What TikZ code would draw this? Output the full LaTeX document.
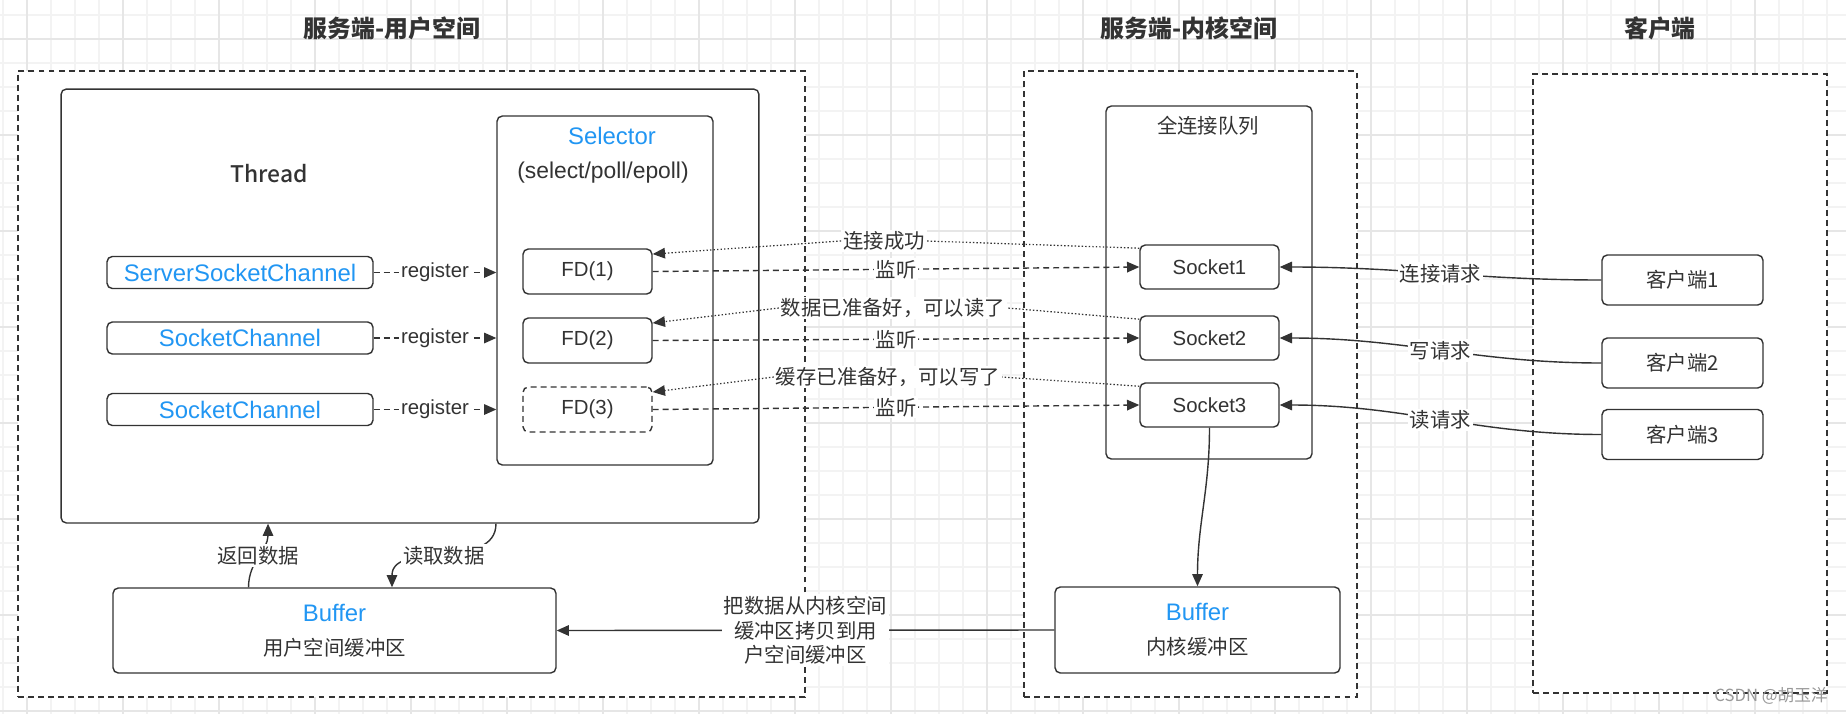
\documentclass[tikz,border=0pt]{standalone}
\usepackage{fontspec}
\setmainfont{Noto Sans CJK SC}
\newfontfamily\latinfont{Liberation Sans}
\newfontfamily\medfont{Noto Sans CJK SC Medium}
\usepackage{tikz}
\usetikzlibrary{arrows.meta}

\definecolor{ink}{HTML}{333333}
\definecolor{selblue}{HTML}{2196F3}
\definecolor{gridfine}{HTML}{F3F3F3}
\definecolor{gridbold}{HTML}{E6E6E6}

\begin{document}
\begin{tikzpicture}[x=0.02cm, y=-0.02cm, every node/.style={font=\fontsize{11.6}{14.2}\selectfont, text=ink},
	zone/.style={draw=ink, line width=0.8pt, dash pattern=on 3.4pt off 2.3pt, fill=white, inner sep=0pt},
	card/.style={draw=ink, line width=0.8pt, rounded corners=3pt, fill=white, inner sep=0pt},
	dashpat/.style={dash pattern=on 3.4pt off 2.3pt},
	latin/.style={font=\latinfont\fontsize{11.6}{14.2}\selectfont},
	bluetext/.style={text=selblue, font=\latinfont\fontsize{13.6}{16}\selectfont},
	headline/.style={font=\fontsize{13.6}{16}\selectfont\bfseries},
	tag/.style={fill=white, inner sep=1pt},
	link/.style={draw=ink, line width=0.8pt, -{Triangle[length=7pt,width=6pt]}},
	dotlink/.style={draw=ink, line width=0.7pt, dash pattern=on 0.8pt off 1.2pt, -{Triangle[length=7pt,width=6pt]}}]
	\useasboundingbox (0,0) rectangle (1846,714);
	\fill[white] (0,0) rectangle (1846,714);
	\foreach \gx in {3,27,...,1846} \draw[gridfine, line width=0.6pt] (\gx,0) -- (\gx,714);
	\foreach \gy in {15,39,...,714} \draw[gridfine, line width=0.6pt] (0,\gy) -- (1846,\gy);
	\foreach \gx in {27,123,...,1846} \draw[gridbold, line width=0.9pt] (\gx,0) -- (\gx,714);
	\foreach \gy in {39,135,...,714} \draw[gridbold, line width=0.9pt] (0,\gy) -- (1846,\gy);

	\node[headline] (userhead) at (392,28) {服务端-用户空间};
	\node[headline] (kernelhead) at (1189,28) {服务端-内核空间};
	\node[headline] (clienthead) at (1660,28) {客户端};

	\node[zone, minimum width=15.74cm, minimum height=12.52cm] (userspace) at (411.5,384) {};
	\node[zone, minimum width=6.66cm, minimum height=12.52cm] (kernelspace) at (1190.5,384) {};
	\node[zone, minimum width=5.88cm, minimum height=12.38cm] (clientside) at (1680,383.5) {};

	\node[card, minimum width=13.96cm, minimum height=8.68cm] (thread) at (410,306) {};
	\node[font=\medfont\fontsize{13}{16}\selectfont] (threadlbl) at (269,174) {Thread};
	\node[card, minimum width=4.32cm, minimum height=6.98cm] (selector) at (605,290.5) {};
	\node[bluetext] (selectorlbl) at (612,136) {Selector};
	\node[font=\latinfont\fontsize{13}{16}\selectfont] (selectorsub) at (603,173) {(select/poll/epoll)};

	\node[card, bluetext, minimum width=5.32cm, minimum height=0.64cm] (ssc) at (240,272.5) {ServerSocketChannel};
	\node[card, bluetext, minimum width=5.32cm, minimum height=0.64cm] (sc1) at (240,338) {SocketChannel};
	\node[card, bluetext, minimum width=5.32cm, minimum height=0.64cm] (sc2) at (240,409.5) {SocketChannel};

	\node[card, latin, minimum width=2.58cm, minimum height=0.9cm] (fd1) at (587.5,271.5) {FD(1)};
	\node[card, latin, minimum width=2.58cm, minimum height=0.9cm] (fd2) at (587.5,340.5) {FD(2)};
	\node[card, latin, dashpat, minimum width=2.58cm, minimum height=0.9cm] (fd3) at (587.5,409.5) {FD(3)};

	\node[card, minimum width=4.12cm, minimum height=7.06cm] (queue) at (1209,282.5) {};
	\node (queuelbl) at (1208,126) {全连接队列};
	\node[card, latin, minimum width=2.78cm, minimum height=0.88cm] (sock1) at (1209.5,267) {Socket1};
	\node[card, latin, minimum width=2.78cm, minimum height=0.88cm] (sock2) at (1209.5,338) {Socket2};
	\node[card, latin, minimum width=2.78cm, minimum height=0.88cm] (sock3) at (1209.5,405) {Socket3};

	\node[card, minimum width=3.22cm, minimum height=1cm] (cli1) at (1682.5,280) {客户端1};
	\node[card, minimum width=3.22cm, minimum height=1cm] (cli2) at (1682.5,363) {客户端2};
	\node[card, minimum width=3.22cm, minimum height=1cm] (cli3) at (1682.5,434.5) {客户端3};

	\node[card, align=center, minimum width=8.86cm, minimum height=1.7cm] (ubuf) at (334.5,630.5) {\textcolor{selblue}{\latinfont\fontsize{13.6}{16}\selectfont Buffer}\\[5pt]用户空间缓冲区};
	\node[card, align=center, minimum width=5.7cm, minimum height=1.72cm] (kbuf) at (1197.5,630) {\textcolor{selblue}{\latinfont\fontsize{13.6}{16}\selectfont Buffer}\\[5pt]内核缓冲区};

	\foreach \src in {ssc,sc1,sc2}
		\draw[link, dashpat] (\src.east) -- node[tag, latin] {register} (\src.east -| selector.west);
	\foreach \i in {1,2,3}
		\draw[link, dashpat] (fd\i.east) -- node[tag] {监听} (sock\i.west);

	\node[tag] (ready1) at (884,241) {连接成功};
	\node[tag] (ready2) at (893,308) {数据已准备好，可以读了};
	\node[tag] (ready3) at (888,377) {缓存已准备好，可以写了};
	\foreach \i in {1,2,3}
		\draw[dotlink] (sock\i.165) -- (ready\i.east) (ready\i.west) -- (fd\i.15);

	\draw[link] (cli1.west) to[out=180,in=0] node[tag] {连接请求} (sock1.east);
	\draw[link] (cli2.west) to[out=180,in=0] node[tag] {写请求} (sock2.east);
	\draw[link] (cli3.west) to[out=180,in=0] node[tag] {读请求} (sock3.east);

	\draw[link] (sock3.south) to[out=-90,in=90] (kbuf.north);
	\draw[link] (kbuf.west) -- node[tag, align=center] {把数据从内核空间\\缓冲区拷贝到用\\户空间缓冲区} (ubuf.east);

	\draw[link] ([xshift=-1.72cm]ubuf.north) to[out=90,in=-90] node[tag] {返回数据} ([xshift=-2.84cm]thread.south);
	\draw[link] ([xshift=1.72cm]thread.south) to[out=-90,in=90] node[tag] {读取数据} ([xshift=1.15cm]ubuf.north);

	\node[font=\fontsize{9.5}{11}\selectfont, text=gray!80] (mark) at (1771,696) {CSDN @胡玉洋};
\end{tikzpicture}
\end{document}
